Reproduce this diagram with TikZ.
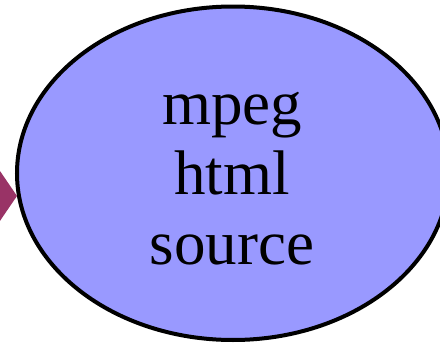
\documentclass[tikz,border=0pt]{standalone}
\usepackage{fontspec}
\setmainfont{Liberation Serif}
\usetikzlibrary{shapes.geometric}
\definecolor{bubble}{HTML}{9999FF}
\definecolor{maroon}{HTML}{993366}
\tikzset{
  topic/.style={ellipse, draw=black, line width=4pt, fill=bubble, inner sep=0pt,
    minimum width=432pt, minimum height=333.5pt},
  label/.style={align=center, font=\fontsize{63}{70}\selectfont, inner sep=0pt},
  pointer/.style={fill=maroon}
}
\begin{document}
\begin{tikzpicture}[x=1pt, y=-1pt]
  \useasboundingbox (0,0) rectangle (440,343);
  \clip (0,0) rectangle (440,343);
  \node[topic] (e) at (233,173.25) {};
  \node[label] (t) at (232,179) {mpeg\\html\\source};
  % head of the incoming arrow, tip resting on the ellipse
  \coordinate (tip) at (e.186.6);
  \fill[pointer] (tip) -- ([shift={(-30,-44)}]tip) -- ([shift={(-60,0)}]tip)
    -- ([shift={(-30,44)}]tip) -- cycle;
\end{tikzpicture}
\end{document}
